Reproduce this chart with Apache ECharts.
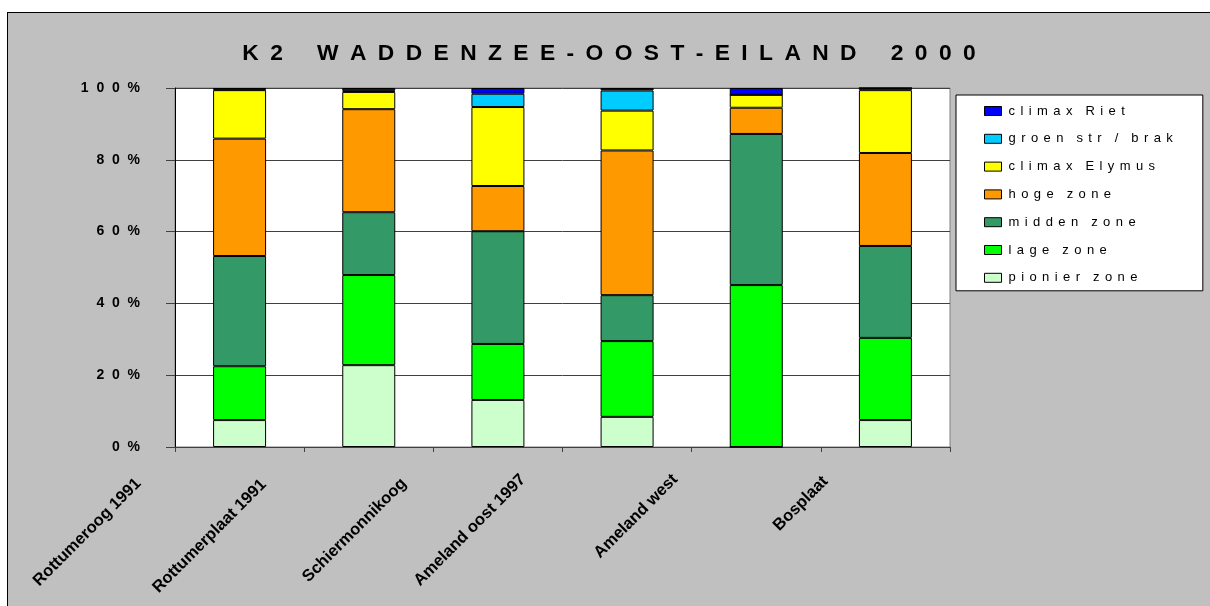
<!DOCTYPE html>
<html><head><meta charset="utf-8">
<script src="https://cdn.jsdelivr.net/npm/echarts@6/dist/echarts.min.js"></script>
<style>
html,body{margin:0;padding:0;background:#fff;overflow:hidden;width:1210px;height:606px}
#c{position:absolute;left:7px;top:12px;width:1202px;height:593px;border:1px solid #000;border-right:none;border-bottom:none}
</style></head><body><div id="c"></div>
<script>
// ---- data ----
const chartTitle = 'K2 WADDENZEE-OOST-EILAND 2000';
const categories = ['Rottumeroog 1991', 'Rottumerplaat 1991', 'Schiermonnikoog', 'Ameland oost 1997', 'Ameland west', 'Bosplaat'];
const seriesNames = ['pionier zone', 'lage zone', 'midden zone', 'hoge zone', 'climax Elymus', 'groen str / brak', 'climax Riet'];
const pionierZone   = [7.5, 22.8, 13.1, 8.4, 0, 7.5];
const lageZone      = [15.0, 25.1, 15.6, 21.1, 45.1, 22.9];
const middenZone    = [30.7, 17.5, 31.4, 12.8, 42.1, 25.6];
const hogeZone      = [32.7, 28.7, 12.6, 40.3, 7.3, 25.9];
const climaxElymus  = [13.5, 4.8, 22.0, 11.1, 3.6, 17.5];
const groenStrBrak  = [0.2, 0.3, 3.7, 5.6, 0, 0.6];
const climaxRiet    = [0.4, 0.8, 1.6, 0.7, 1.9, 0];
const yTickValues   = [0, 20, 40, 60, 80, 100];

// ---- styles ----
const seriesValues = [pionierZone, lageZone, middenZone, hogeZone, climaxElymus, groenStrBrak, climaxRiet];
const seriesColors = ['#CCFFCC', '#00FF00', '#339966', '#FF9900', '#FFFF00', '#00CCFF', '#0000FF'];
const FONT = 'Arial, "Liberation Sans", Helvetica, sans-serif';
const EN = '\u2002';
const LGAP = '\u2005\u2006';
function spaced(s, gap, wordGap) {
  return s.split(' ').map(w => w.split('').join(gap)).join(wordGap);
}
// label end offsets (px) relative to the category centre / axis line
const labelDX = [-101, -105, -94, -104, -81, -60];
const labelDY = [34, 35, 34, 30, 30, 32];
const LABEL_MARGIN = 8;
const K = Math.SQRT1_2;
const xData = categories.map((c, i) => {
  const sum = (labelDY[i] - LABEL_MARGIN) / K;
  const diff = labelDX[i] / K;
  const s = (sum + diff) / 2, r = (sum - diff) / 2;
  return { value: c, textStyle: { padding: [0, r, 0, 0], lineHeight: Math.max(1, -2 * s) } };
});

const chart = echarts.init(document.getElementById('c'), null, { renderer: 'canvas' });
chart.setOption({
  backgroundColor: '#C0C0C0',
  animation: false,
  title: {
    text: spaced(chartTitle, EN, EN + EN + EN),
    left: 'center', top: 29, padding: 0,
    textStyle: { fontFamily: FONT, fontSize: 22.8, fontWeight: 'bold', color: '#000' }
  },
  legend: {
    orient: 'vertical', left: 948, top: 82,
    data: seriesNames.slice().reverse(),
    icon: 'rect', itemWidth: 17, itemHeight: 9, itemGap: 13.8,
    padding: [9, 30, 6, 28],
    backgroundColor: '#fff', borderColor: '#000', borderWidth: 1, borderRadius: 0,
    itemStyle: { borderColor: '#000', borderWidth: 1 },
    formatter: n => spaced(n, LGAP, EN + EN),
    textStyle: { fontFamily: FONT, fontSize: 13, lineHeight: 14, color: '#000', padding: [0, 0, 0, 2] }
  },
  grid: {
    left: 167, top: 75, width: 775, height: 359,
    show: true, backgroundColor: '#fff', borderColor: '#808080', borderWidth: 1,
    outerBoundsMode: 'none', containLabel: false
  },
  xAxis: {
    type: 'category', data: xData, boundaryGap: true,
    axisLine: { show: true, lineStyle: { color: '#404040', width: 1 } },
    axisTick: { show: true, length: 5, lineStyle: { color: '#404040' } },
    axisLabel: {
      rotate: 45, interval: 0, margin: LABEL_MARGIN, fontFamily: FONT, fontSize: 16.5, fontWeight: 'bold', color: '#000',
      formatter: v => v + '\n '
    },
    splitLine: { show: false }
  },
  yAxis: {
    type: 'value', min: yTickValues[0], max: yTickValues[yTickValues.length - 1], interval: yTickValues[1] - yTickValues[0],
    axisLine: { show: true, lineStyle: { color: '#000', width: 1 } },
    axisTick: { show: true, length: 9, lineStyle: { color: '#404040' } },
    axisLabel: {
      margin: 35, fontFamily: FONT, fontSize: 14, fontWeight: 'bold', color: '#000',
      formatter: v => String(v).split('').join('  ') + '  %'
    },
    splitLine: { show: true, lineStyle: { color: '#404040', width: 1 } }
  },
  series: seriesNames.map((name, i) => ({
    name, type: 'bar', stack: 'total', barWidth: 53,
    data: seriesValues[i],
    itemStyle: { color: seriesColors[i], borderColor: '#000', borderWidth: 1 },
    emphasis: { disabled: true }
  }))
});
</script></body></html>
